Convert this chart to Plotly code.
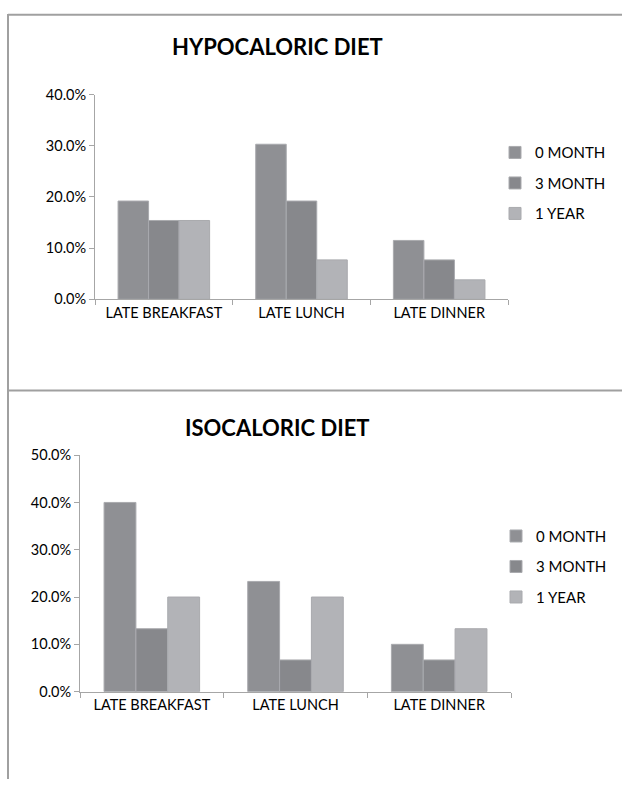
import plotly.graph_objects as go

# Meal-timing categories and follow-up points
categories = ["LATE BREAKFAST", "LATE LUNCH", "LATE DINNER"]
series_names = ["0 MONTH", "3 MONTH", "1 YEAR"]
series_colors = ["#8F9094", "#87888C", "#B2B3B7"]

# Share of patients (fractions) per category, hypocaloric diet
hypo_0_month = [0.192, 0.303, 0.115]
hypo_3_month = [0.154, 0.192, 0.077]
hypo_1_year = [0.154, 0.077, 0.038]

# Share of patients (fractions) per category, isocaloric diet
iso_0_month = [0.400, 0.233, 0.100]
iso_3_month = [0.133, 0.067, 0.067]
iso_1_year = [0.200, 0.200, 0.133]

hypo_ticks = [0.0, 0.1, 0.2, 0.3, 0.4]
iso_ticks = [0.0, 0.1, 0.2, 0.3, 0.4, 0.5]

W, H = 622, 787
FONT = "Lato"
AXIS_GRAY = "#A6A6A6"


def px_x(x):
    return x / W


def px_y(y):
    return 1 - y / H


fig = go.Figure()

hypo_series = [hypo_0_month, hypo_3_month, hypo_1_year]
iso_series = [iso_0_month, iso_3_month, iso_1_year]

for name, color, vals in zip(series_names, series_colors, hypo_series):
    fig.add_trace(go.Bar(
        x=categories, y=vals, name=name, legendgroup="h" + name,
        marker=dict(color=color, line=dict(color="#A9AAAE", width=1)),
        xaxis="x", yaxis="y", legend="legend",
    ))

for name, color, vals in zip(series_names, series_colors, iso_series):
    fig.add_trace(go.Bar(
        x=categories, y=vals, name=name, legendgroup="i" + name,
        marker=dict(color=color, line=dict(color="#A9AAAE", width=1)),
        xaxis="x2", yaxis="y2", legend="legend2",
    ))

common_x = dict(
    type="category", showline=True, linecolor=AXIS_GRAY, linewidth=1,
    ticks="outside", tickson="boundaries", ticklen=5, tickcolor=AXIS_GRAY,
    showgrid=False, zeroline=False,
    tickfont=dict(family=FONT, size=14.5, color="#000000"),
)
common_y = dict(
    showline=True, linecolor=AXIS_GRAY, linewidth=1,
    ticks="outside", ticklen=5, tickcolor=AXIS_GRAY,
    showgrid=False, zeroline=False, tickformat=".1%",
    tickfont=dict(family=FONT, size=14.5, color="#000000"),
)

legend_common = dict(
    font=dict(family=FONT, size=15, color="#000000"),
    bgcolor="rgba(0,0,0,0)", tracegroupgap=8,
    xanchor="left", yanchor="top", itemclick=False,
)

fig.update_layout(
    width=W, height=H,
    margin=dict(l=0, r=0, t=0, b=0),
    paper_bgcolor="white", plot_bgcolor="white",
    barmode="group", bargap=0.335, bargroupgap=0,
    font=dict(family=FONT, color="#000000"),
    xaxis=dict(common_x, domain=[px_x(95), px_x(508)], anchor="y"),
    yaxis=dict(common_y, domain=[px_y(296.7), px_y(87.5)], range=[0, 0.4],
               tickvals=hypo_ticks, anchor="x"),
    xaxis2=dict(common_x, domain=[px_x(80), px_x(511)], anchor="y2"),
    yaxis2=dict(common_y, domain=[px_y(697.7), px_y(456)], range=[0, 0.5],
                tickvals=iso_ticks, anchor="x2"),
    legend=dict(legend_common, x=px_x(495), y=px_y(130)),
    legend2=dict(legend_common, x=px_x(496), y=px_y(522)),
    showlegend=True,
)

# Chart titles, centred on their anchor points
title_font = dict(family=FONT, size=22, color="#000000")
fig.add_annotation(text="<b>HYPOCALORIC DIET</b>", x=px_x(277), y=px_y(38),
                   xref="paper", yref="paper", showarrow=False,
                   xanchor="center", yanchor="middle", font=title_font)
fig.add_annotation(text="<b>ISOCALORIC DIET</b>", x=px_x(277), y=px_y(428),
                   xref="paper", yref="paper", showarrow=False,
                   xanchor="center", yanchor="middle", font=title_font)

# Chart-area borders
frame = dict(type="line", xref="paper", yref="paper",
             line=dict(color="#A0A0A0", width=2))
fig.add_shape(frame, x0=px_x(8), x1=px_x(8), y0=px_y(5), y1=0)
fig.add_shape(frame, x0=px_x(8), x1=1, y0=px_y(6), y1=px_y(6))
fig.add_shape(frame, x0=px_x(8), x1=1, y0=px_y(390), y1=px_y(390))

fig.write_html("out.html")
